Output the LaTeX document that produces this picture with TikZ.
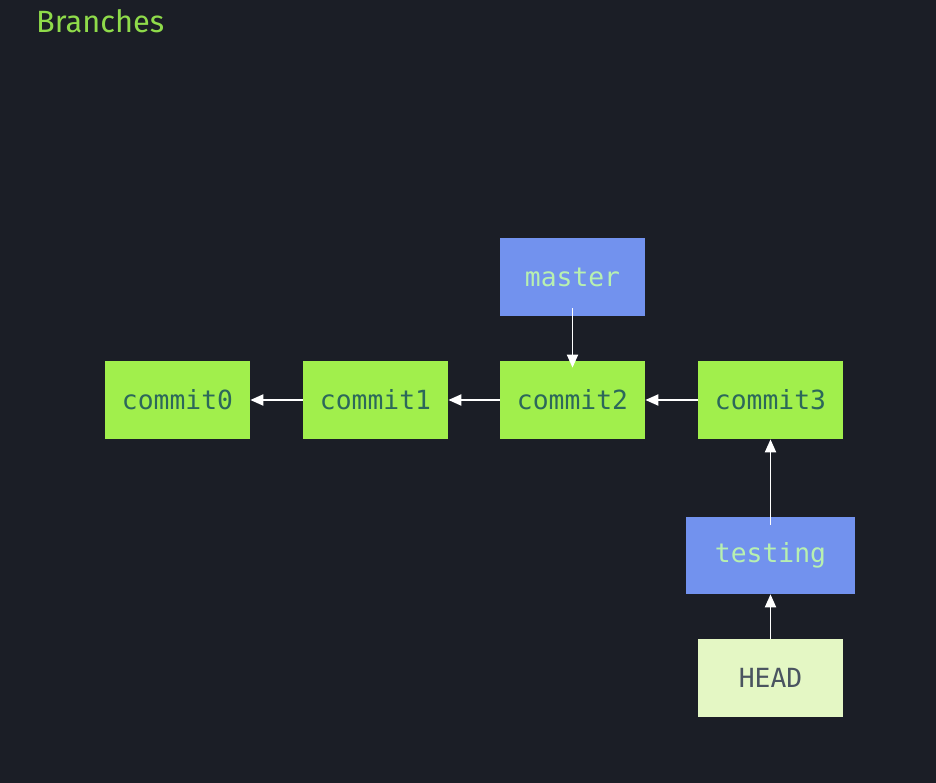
\documentclass[tikz,border=0pt]{standalone}
\usepackage{fontspec}
\setmainfont{Fira Sans}
\setmonofont{DejaVu Sans Mono}
\usepackage{tikz}
\usetikzlibrary{arrows.meta,positioning,calc}
\definecolor{gbfond}{RGB}{27,30,38}
\definecolor{gbtitre}{RGB}{143,219,74}
\definecolor{gbvert}{RGB}{161,239,76}
\definecolor{gbvertxt}{RGB}{44,104,90}
\definecolor{gbbleu}{RGB}{114,146,238}
\definecolor{gbbleutxt}{RGB}{184,240,176}
\definecolor{gbpale}{RGB}{228,247,196}
\definecolor{gbpaletxt}{RGB}{74,84,96}
\tikzset{
  commitbox/.style={
    rectangle, fill=gbvert, text=gbvertxt,
    minimum width=2.9cm, minimum height=1.56cm, text centered,
    font=\fontsize{15}{18}\selectfont\ttfamily
  },
  branchbox/.style={
    rectangle, fill=gbbleu, text=gbbleutxt,
    minimum width=2.9cm, minimum height=1.56cm, text centered,
    font=\fontsize{15}{18}\selectfont\ttfamily
  },
  headbox/.style={
    rectangle, fill=gbpale, text=gbpaletxt,
    minimum width=2.9cm, minimum height=1.56cm, text centered,
    font=\fontsize{15}{18}\selectfont\ttfamily
  },
  refarrow/.style={-{Triangle[length=2.6mm,width=2.2mm]}, white, line width=1.1pt}
}

\begin{document}
\begin{tikzpicture}[x=0.02cm, y=-0.02cm]
  \fill[gbfond] (0,0) rectangle (936,783);
  \useasboundingbox (0,0) rectangle (936,783);
  \node[anchor=west, text=gbtitre, font=\fontsize{17.5}{20}\selectfont] (titre) at (30,21) {Branches};
  % commits
  \node[commitbox] (c0) at (177.5,400) {commit0};
  \node[commitbox] (c1) at (375.5,400) {commit1};
  \node[commitbox] (c2) at (572.5,400) {commit2};
  \node[commitbox] (c3) at (770.5,400) {commit3};
  % branches
  \node[branchbox] (master) at (572.5,277) {master};
  \node[branchbox, minimum width=3.38cm, minimum height=1.54cm] (testing) at (770.5,555.5) {testing};
  \node[headbox] (head) at (770.5,678) {HEAD};
  \draw[refarrow] (c1) -- (c0);
  \draw[refarrow] (c2) -- (c1);
  \draw[refarrow] (c3) -- (c2);
  \draw[refarrow, shorten <=-0.16cm, shorten >=-0.14cm] (master) -- (c2);
  \draw[refarrow, shorten <=-0.16cm] (testing) -- (c3);
  \draw[refarrow] (head) -- (testing);
\end{tikzpicture}
\end{document}
